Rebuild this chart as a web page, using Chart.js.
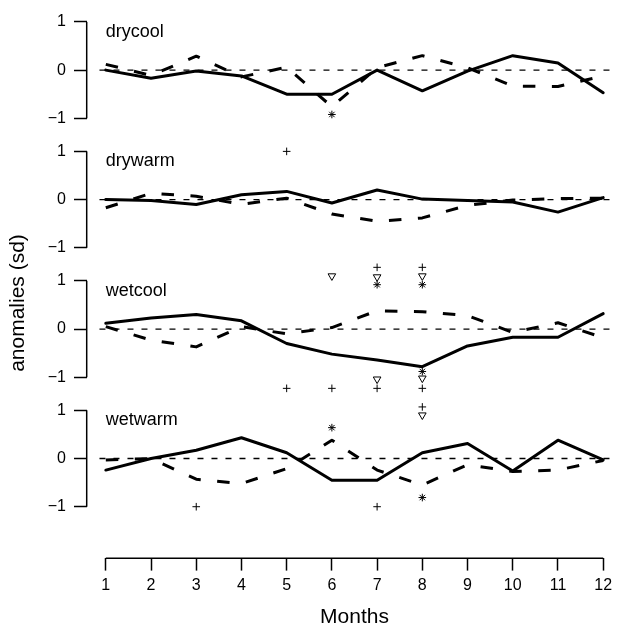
<!DOCTYPE html>
<html>
<head>
<meta charset="utf-8">
<script src="https://cdn.jsdelivr.net/npm/chart.js@4.4.1/dist/chart.umd.min.js"></script>
<style>
  html, body { margin: 0; padding: 0; background: #fff; }
  #wrap { width: 617px; height: 626px; }
</style>
</head>
<body>
<div id="wrap"><canvas id="chart" width="617" height="626"></canvas></div>
<script>
// monthly anomalies, one panel per weather type
const months = [1, 2, 3, 4, 5, 6, 7, 8, 9, 10, 11, 12];
const monthLabels = ['1', '2', '3', '4', '5', '6', '7', '8', '9', '10', '11', '12'];
const yTickValues = [-1, 0, 1];
const yTickLabels = ['\u22121', '0', '1'];
const panelNames = ['drycool', 'drywarm', 'wetcool', 'wetwarm'];

const drycoolSolid  = [0.00, -0.17, -0.02, -0.12, -0.50, -0.50, 0.00, -0.43, -0.02, 0.30, 0.15, -0.47];
const drycoolDashed = [0.12, -0.11, 0.29, -0.14, 0.06, -0.76, 0.05, 0.30, 0.05, -0.33, -0.34, -0.12];
const drywarmSolid  = [0.00, -0.02, -0.10, 0.10, 0.17, -0.07, 0.20, 0.01, -0.02, -0.05, -0.26, 0.04];
const drywarmDashed = [-0.17, 0.13, 0.07, -0.10, 0.03, -0.30, -0.45, -0.38, -0.12, -0.01, 0.02, 0.03];
const wetcoolSolid  = [0.12, 0.23, 0.30, 0.17, -0.30, -0.52, -0.64, -0.78, -0.35, -0.17, -0.17, 0.32];
const wetcoolDashed = [0.05, -0.23, -0.37, 0.05, -0.10, 0.03, 0.38, 0.36, 0.28, -0.07, 0.13, -0.18];
const wetwarmSolid  = [-0.24, 0.00, 0.17, 0.43, 0.12, -0.45, -0.45, 0.12, 0.31, -0.26, 0.38, -0.03];
const wetwarmDashed = [-0.03, 0.00, -0.43, -0.52, -0.21, 0.38, -0.24, -0.55, -0.13, -0.27, -0.24, -0.04];

// significance symbols: [month, value]
const drycoolStar = [[6, -0.92]];
const drywarmPlus = [[5, 1.00]];
const wetcoolPlus = [[5, -1.23], [6, -1.23], [7, 1.28], [7, -1.23], [8, 1.28], [8, -1.23]];
const wetcoolTri  = [[6, 1.10], [7, 1.08], [7, -1.04], [8, 1.10], [8, -1.02]];
const wetcoolStar = [[7, 0.92], [8, 0.92], [8, -0.88]];
const wetwarmPlus = [[3, -1.00], [7, -1.00], [8, 1.07]];
const wetwarmTri  = [[8, 0.90]];
const wetwarmStar = [[6, 0.64], [8, -0.81]];

const FONT = '"Liberation Sans", Arial, Helvetica, sans-serif';

function lineSet(values, axis, dashed) {
  return {
    data: values.map((v, i) => ({ x: months[i], y: v })),
    yAxisID: axis,
    borderColor: '#000',
    borderWidth: 3,
    borderDash: dashed ? [12.5, 16.5] : [],
    borderCapStyle: dashed ? 'butt' : 'round',
    borderJoinStyle: 'round',
    pointRadius: 0,
    tension: 0,
    fill: false,
    clip: false
  };
}

function markSet(pairs, axis, style) {
  return {
    data: pairs.map(p => ({ x: p[0], y: p[1] })),
    yAxisID: axis,
    showLine: false,
    pointStyle: style,
    pointRotation: style === 'triangle' ? 180 : 0,
    pointRadius: style === 'triangle' ? 4.4 : 3.8,
    pointBorderWidth: 1,
    pointBorderColor: '#000',
    pointBackgroundColor: 'rgba(0,0,0,0)',
    clip: false
  };
}

function zeroSet(axis) {
  return {
    data: [{ x: 0.86, y: 0 }, { x: 12.19, y: 0 }],
    yAxisID: axis,
    borderColor: '#000',
    borderWidth: 1.3,
    borderDash: [6, 8],
    pointRadius: 0,
    clip: false
  };
}

const datasets = [
  zeroSet('y0'), zeroSet('y1'), zeroSet('y2'), zeroSet('y3'),
  lineSet(drycoolSolid, 'y0', false), lineSet(drycoolDashed, 'y0', true),
  lineSet(drywarmSolid, 'y1', false), lineSet(drywarmDashed, 'y1', true),
  lineSet(wetcoolSolid, 'y2', false), lineSet(wetcoolDashed, 'y2', true),
  lineSet(wetwarmSolid, 'y3', false), lineSet(wetwarmDashed, 'y3', true),
  markSet(drycoolStar, 'y0', 'star'),
  markSet(drywarmPlus, 'y1', 'cross'),
  markSet(wetcoolPlus, 'y2', 'cross'),
  markSet(wetcoolTri, 'y2', 'triangle'),
  markSet(wetcoolStar, 'y2', 'star'),
  markSet(wetwarmPlus, 'y3', 'cross'),
  markSet(wetwarmTri, 'y3', 'triangle'),
  markSet(wetwarmStar, 'y3', 'star')
];

// no automatic room for overhanging tick labels, the layout is set by hand
function noPadding(s) {
  s.paddingTop = 0; s.paddingBottom = 0; s.paddingLeft = 0; s.paddingRight = 0;
}

function panelAxis(min, max, weight) {
  return {
    type: 'linear',
    position: 'left',
    stack: 'panels',
    stackWeight: max - min,
    weight: weight,
    min: min,
    max: max,
    afterBuildTicks: s => { s.ticks = yTickValues.map(v => ({ value: v })); },
    afterFit: s => { s.width = 60; noPadding(s); },
    border: { display: false },
    grid: { drawOnChartArea: false, drawTicks: true, tickLength: 12.7, tickWidth: 1.5, tickColor: '#000' },
    ticks: {
      color: '#000',
      padding: 8,
      font: { family: FONT, size: 16 },
      callback: v => yTickLabels[yTickValues.indexOf(v)]
    }
  };
}

// draws the R-style axis lines, panel names and the axis titles
const frame = {
  id: 'frame',
  afterDraw(chart) {
    const ctx = chart.ctx;
    const area = chart.chartArea;
    const xs = chart.scales.x;
    ctx.save();
    ctx.strokeStyle = '#000';
    ctx.fillStyle = '#000';
    ctx.lineWidth = 1.5;
    ctx.beginPath();
    ctx.moveTo(xs.getPixelForValue(months[0]), area.bottom);
    ctx.lineTo(xs.getPixelForValue(months[months.length - 1]), area.bottom);
    ctx.stroke();
    ctx.font = '18px ' + FONT;
    ctx.textBaseline = 'middle';
    ctx.textAlign = 'left';
    panelNames.forEach((name, i) => {
      const ys = chart.scales['y' + i];
      ctx.beginPath();
      ctx.moveTo(area.left, ys.getPixelForValue(yTickValues[0]));
      ctx.lineTo(area.left, ys.getPixelForValue(yTickValues[yTickValues.length - 1]));
      ctx.stroke();
      ctx.fillText(name, xs.getPixelForValue(months[0]), ys.getPixelForValue(0.79));
    });
    ctx.font = '21px ' + FONT;
    ctx.textAlign = 'center';
    ctx.fillText('Months', xs.getPixelForValue(6.5), 617);
    ctx.translate(18, 303);
    ctx.rotate(-Math.PI / 2);
    ctx.fillText('anomalies (sd)', 0, 0);
    ctx.restore();
  }
};

new Chart(document.getElementById('chart'), {
  type: 'line',
  data: { datasets: datasets },
  options: {
    responsive: false,
    animation: false,
    layout: { padding: { left: 26.7, top: 4.15, right: 0, bottom: 0 } },
    plugins: { legend: { display: false }, tooltip: { enabled: false } },
    scales: {
      x: {
        type: 'linear',
        position: 'bottom',
        min: 0.5775,
        max: 12.186,
        afterBuildTicks: s => { s.ticks = months.map(v => ({ value: v })); },
        afterFit: s => { s.height = 67.7; noPadding(s); },
        border: { display: false },
        grid: { drawOnChartArea: false, drawTicks: true, tickLength: 12.3, tickWidth: 1.5, tickColor: '#000' },
        ticks: {
          color: '#000',
          padding: 5,
          maxRotation: 0,
          autoSkip: false,
          font: { family: FONT, size: 16 },
          callback: v => monthLabels[months.indexOf(v)]
        }
      },
      y0: panelAxis(-1.3427, 1.3427, 4),
      y1: panelAxis(-1.3427, 1.3427, 3),
      y2: panelAxis(-1.3427, 1.3427, 2),
      y3: panelAxis(-2.07, 1.3427, 1)
    }
  },
  plugins: [frame]
});
</script>
</body>
</html>
